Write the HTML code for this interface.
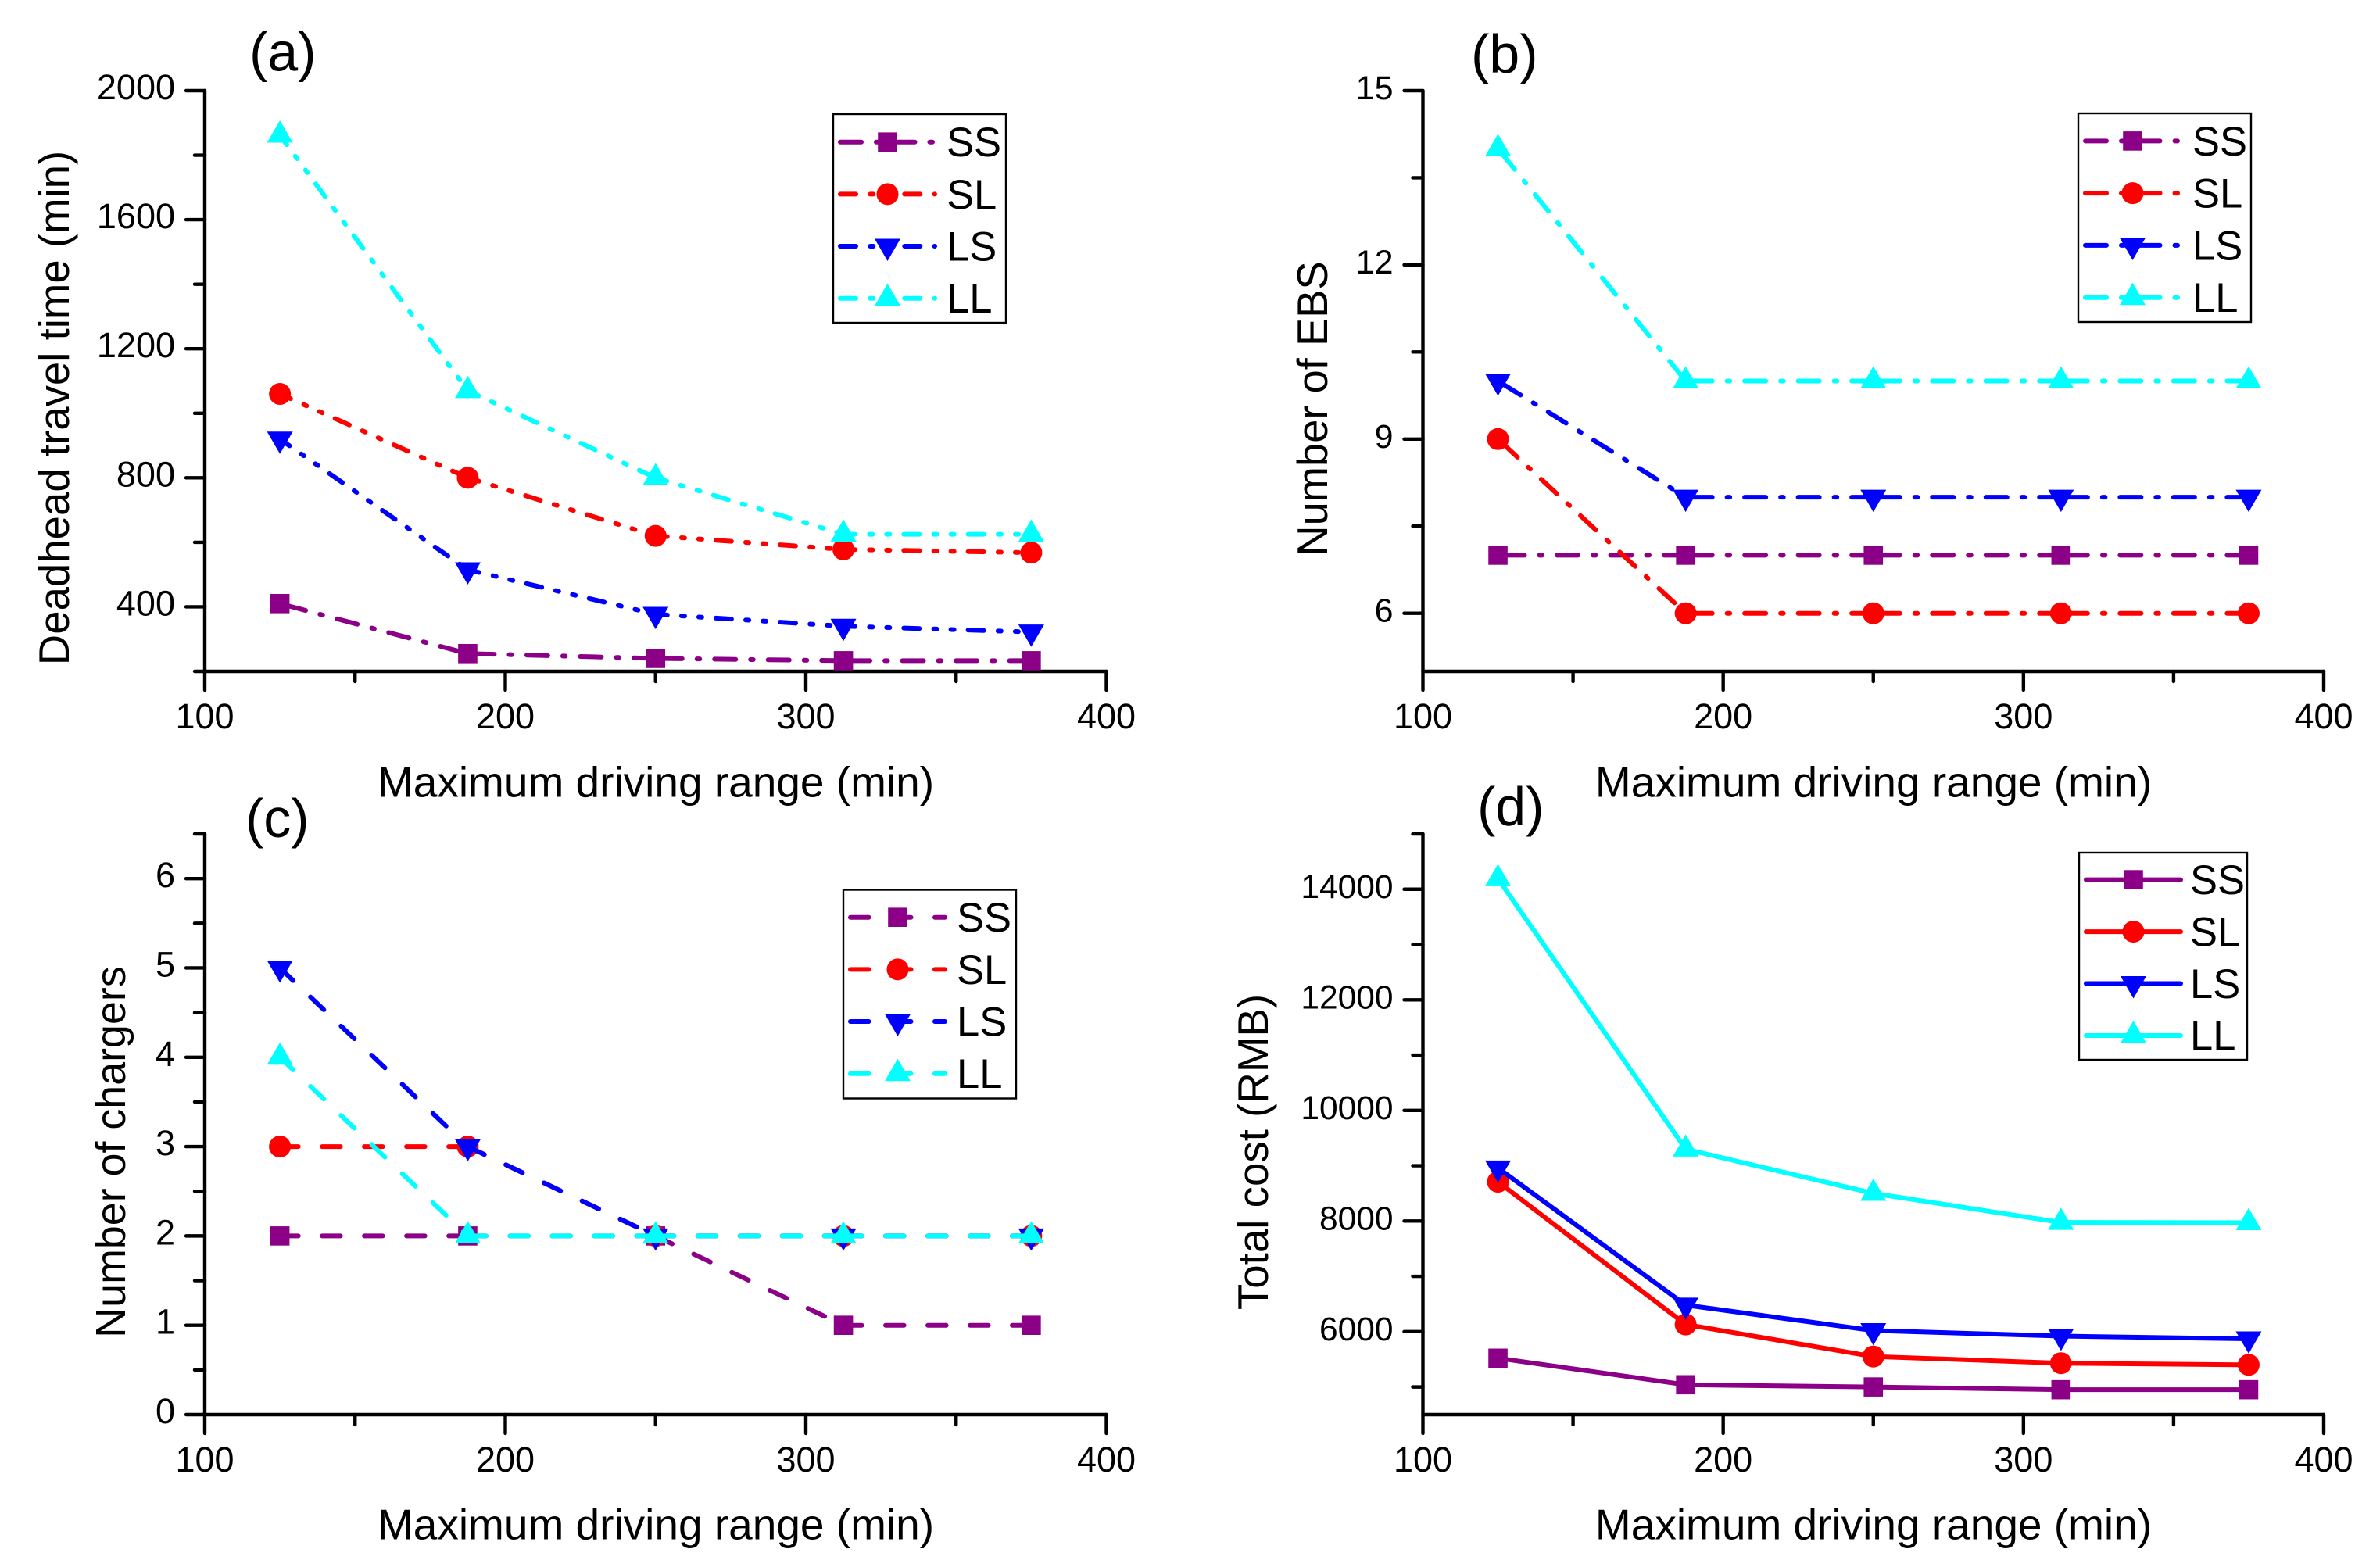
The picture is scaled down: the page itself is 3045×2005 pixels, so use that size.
<!DOCTYPE html>
<html lang="en">
<head>
<meta charset="utf-8">
<title>Four-panel chart of driving range effects</title>
<style>
html,body{margin:0;padding:0;background:#fff;}
svg{display:block;}
text{font-family:"Liberation Sans",Arial,sans-serif;fill:#000;}
</style>
</head>
<body>
<svg id="chart" xmlns="http://www.w3.org/2000/svg" width="3045" height="2005" viewBox="0 0 3045 2005"></svg>
<script>
const xValues = [125, 187.5, 250, 312.5, 375];
const xMajorTicks = [100, 200, 300, 400];
const xMinorTicks = [150, 250, 350];
const xTitle = 'Maximum driving range (min)';
const seriesNames = ['SS', 'SL', 'LS', 'LL'];

const aSS = [410, 255, 240, 233, 233];
const aSL = [1060, 800, 620, 578, 568];
const aLS = [920, 515, 377, 340, 322];
const aLL = [1862, 1070, 800, 625, 625];
const aMajorTicks = [400, 800, 1200, 1600, 2000];
const aMinorTicks = [200, 600, 1000, 1400, 1800];

const bSS = [7, 7, 7, 7, 7];
const bSL = [9, 6, 6, 6, 6];
const bLS = [10, 8, 8, 8, 8];
const bLL = [14, 10, 10, 10, 10];
const bMajorTicks = [6, 9, 12, 15];
const bMinorTicks = [7.5, 10.5, 13.5];

const cSS = [2, 2, 2, 1, 1];
const cSL = [3, 3, 2, 2, 2];
const cLS = [5, 3, 2, 2, 2];
const cLL = [4, 2, 2, 2, 2];
const cMajorTicks = [0, 1, 2, 3, 4, 5, 6];
const cMinorTicks = [0.5, 1.5, 2.5, 3.5, 4.5, 5.5, 6.5];

const dSS = [5520, 5040, 5000, 4950, 4950];
const dSL = [8710, 6130, 5550, 5430, 5400];
const dLS = [8960, 6480, 6020, 5920, 5870];
const dLL = [14190, 9300, 8500, 7975, 7970];
const dMajorTicks = [6000, 8000, 10000, 12000, 14000];
const dMinorTicks = [5000, 7000, 9000, 11000, 13000, 15000];

const NS = 'http://www.w3.org/2000/svg';
const root = document.getElementById('chart');
const seriesColors = {SS: '#8b0086', SL: '#ff0000', LS: '#0000ff', LL: '#00ffff'};
const dashStyles = {
  dashdot: {array: '27 19 3.5 19', offset: -7},
  dashdotdot: {array: '20 18.3 4 18 4 18', offset: 5},
  dash: {array: '23.5 30.5', offset: 0},
  solid: {array: 'none', offset: 0}
};

function make(tag, parent, attrs) {
  const el = document.createElementNS(NS, tag);
  for (const k in attrs) el.setAttribute(k, attrs[k]);
  parent.appendChild(el);
  return el;
}

function drawMarker(parent, name, cx, cy) {
  const color = seriesColors[name];
  let el;
  if (name === 'SS') {
    el = make('rect', parent, {x: cx - 12.3, y: cy - 12.3, width: 24.6, height: 24.6, fill: color});
  } else if (name === 'SL') {
    el = make('circle', parent, {cx: cx, cy: cy, r: 14, fill: color});
  } else if (name === 'LS') {
    el = make('polygon', parent, {points: (cx - 16.5) + ',' + (cy - 9.5) + ' ' + (cx + 16.5) + ',' + (cy - 9.5) + ' ' + cx + ',' + (cy + 19), fill: color});
  } else {
    el = make('polygon', parent, {points: (cx - 16.5) + ',' + (cy + 9.5) + ' ' + (cx + 16.5) + ',' + (cy + 9.5) + ' ' + cx + ',' + (cy - 19), fill: color});
  }
  
  
}

function drawPanel(p) {
  const g = make('g', root, {});
  
  
  const sx = v => p.left + (v - p.xMin) / (p.xMax - p.xMin) * (p.right - p.left);
  const sy = v => p.bottom - (v - p.yMin) / (p.yMax - p.yMin) * (p.bottom - p.top);
  const axisAttrs = {stroke: '#000', 'stroke-width': 4.4, 'stroke-linecap': 'round', fill: 'none'};

  const yAxis = make('line', g, Object.assign({x1: p.left, x2: p.left, y1: p.top, y2: p.bottom}, axisAttrs));
  
  
  const xAxis = make('line', g, Object.assign({x1: p.left, x2: p.right, y1: p.bottom, y2: p.bottom}, axisAttrs));
  
  

  p.xMajor.forEach(v => {
    const t = make('line', g, Object.assign({x1: sx(v), x2: sx(v), y1: p.bottom, y2: p.bottom + 24}, axisAttrs));
    
    
    const l = make('text', g, {x: sx(v), y: p.bottom + 73, 'text-anchor': 'middle', 'font-size': 45});
    
    
    l.textContent = v;
  });
  p.xMinor.forEach(v => {
    const t = make('line', g, Object.assign({x1: sx(v), x2: sx(v), y1: p.bottom, y2: p.bottom + 13}, axisAttrs));
    
    
  });
  p.yMajor.forEach(v => {
    const t = make('line', g, Object.assign({x1: p.left - 24, x2: p.left, y1: sy(v), y2: sy(v)}, axisAttrs));
    
    
    const l = make('text', g, {x: p.left - 38, y: sy(v) + 11, 'text-anchor': 'end', 'font-size': p.yTickSize});
    
    
    l.textContent = v;
  });
  p.yMinor.forEach(v => {
    const t = make('line', g, Object.assign({x1: p.left - 13, x2: p.left, y1: sy(v), y2: sy(v)}, axisAttrs));
    
    
  });

  const xt = make('text', g, {x: p.xTitleX, y: p.xTitleY, 'text-anchor': 'middle', 'font-size': 55});
  
  
  xt.textContent = xTitle;

  const yt = make('text', g, {transform: 'translate(' + p.yTitleX + ',' + p.yTitleY + ') rotate(-90)', 'text-anchor': 'middle', 'font-size': p.yTitleSize});
  
  
  yt.textContent = p.yTitle;

  const tag = make('text', g, {x: p.tagX, y: p.tagY, 'font-size': 70});
  
  
  tag.textContent = '(' + p.id + ')';

  seriesNames.forEach((name, s) => {
    const sg = make('g', g, {});
    
    
    const vals = p.series[s];
    const style = dashStyles[p.dashes[s]];
    for (let i = 0; i < xValues.length - 1; i++) {
      const seg = make('line', sg, {
        x1: sx(xValues[i]), y1: sy(vals[i]), x2: sx(xValues[i + 1]), y2: sy(vals[i + 1]),
        stroke: seriesColors[name], 'stroke-width': 6, 'stroke-linecap': 'round',
        'stroke-dasharray': style.array, 'stroke-dashoffset': style.offset
      });
      
      
    }
    xValues.forEach((x, i) => drawMarker(sg, name, sx(x), sy(vals[i])));
  });

  const lg = make('g', g, {});
  
  
  const box = make('rect', lg, {x: p.legX, y: p.legY, width: p.legW, height: p.legH, fill: '#fff', stroke: '#000', 'stroke-width': 2.4});
  
  
  const rowGap = (p.legRow4 - p.legRow1) / 3;
  seriesNames.forEach((name, s) => {
    const ry = p.legRow1 + rowGap * s;
    const style = dashStyles[p.dashes[s]];
    const entry = make('g', lg, {});
    
    
    const ln = make('line', entry, {
      x1: p.legX + 9, x2: p.legX + 130, y1: ry, y2: ry,
      stroke: seriesColors[name], 'stroke-width': 6, 'stroke-linecap': 'round',
      'stroke-dasharray': style.array
    });
    
    
    drawMarker(entry, name, p.legX + 69.5, ry);
    const tx = make('text', entry, {x: p.legX + p.legTextDx, y: ry + 18.5, 'font-size': 52.5});
    
    
    tx.textContent = name;
  });
}

drawPanel({
  id: 'a', left: 262, right: 1415.5, top: 116, bottom: 859,
  xMin: 100, xMax: 400, yMin: 200, yMax: 2000,
  xMajor: xMajorTicks, xMinor: xMinorTicks, yMajor: aMajorTicks, yMinor: aMinorTicks,
  series: [aSS, aSL, aLS, aLL], dashes: ['dashdot', 'dashdotdot', 'dashdotdot', 'dashdotdot'],
  yTitle: 'Deadhead travel time (min)', xTitleX: 839, xTitleY: 1019.5, yTitleX: 88, yTitleY: 522,
  yTitleSize: 54.6, yTickSize: 45,
  tagX: 319, tagY: 90.5,
  legX: 1066, legY: 146, legW: 221, legH: 267, legRow1: 181.7, legRow4: 381.7, legTextDx: 145
});
drawPanel({
  id: 'b', left: 1820.5, right: 2973, top: 116, bottom: 859,
  xMin: 100, xMax: 400, yMin: 5, yMax: 15,
  xMajor: xMajorTicks, xMinor: xMinorTicks, yMajor: bMajorTicks, yMinor: bMinorTicks,
  series: [bSS, bSL, bLS, bLL], dashes: ['dashdot', 'dashdot', 'dashdot', 'dashdot'],
  yTitle: 'Number of EBS', xTitleX: 2397, xTitleY: 1019.5, yTitleX: 1698, yTitleY: 523,
  yTitleSize: 54.3, yTickSize: 43,
  tagX: 1882, tagY: 93,
  legX: 2659, legY: 145, legW: 221, legH: 267, legRow1: 180.4, legRow4: 380.7, legTextDx: 146
});
drawPanel({
  id: 'c', left: 262, right: 1415.5, top: 1067, bottom: 1810,
  xMin: 100, xMax: 400, yMin: 0, yMax: 6.5,
  xMajor: xMajorTicks, xMinor: xMinorTicks, yMajor: cMajorTicks, yMinor: cMinorTicks,
  series: [cSS, cSL, cLS, cLL], dashes: ['dash', 'dash', 'dash', 'dash'],
  yTitle: 'Number of chargers', xTitleX: 839, xTitleY: 1969.5, yTitleX: 160, yTitleY: 1474,
  yTitleSize: 53.8, yTickSize: 45,
  tagX: 314, tagY: 1071,
  legX: 1079, legY: 1138.5, legW: 221, legH: 267, legRow1: 1173.7, legRow4: 1373.7, legTextDx: 145
});
drawPanel({
  id: 'd', left: 1820.5, right: 2973, top: 1067, bottom: 1810,
  xMin: 100, xMax: 400, yMin: 4500, yMax: 15000,
  xMajor: xMajorTicks, xMinor: xMinorTicks, yMajor: dMajorTicks, yMinor: dMinorTicks,
  series: [dSS, dSL, dLS, dLL], dashes: ['solid', 'solid', 'solid', 'solid'],
  yTitle: 'Total cost (RMB)', xTitleX: 2397, xTitleY: 1969.5, yTitleX: 1622, yTitleY: 1474,
  yTitleSize: 54.7, yTickSize: 42.5,
  tagX: 1890, tagY: 1056,
  legX: 2660, legY: 1091, legW: 215, legH: 265, legRow1: 1125.6, legRow4: 1325, legTextDx: 142
});
</script>
</body>
</html>
